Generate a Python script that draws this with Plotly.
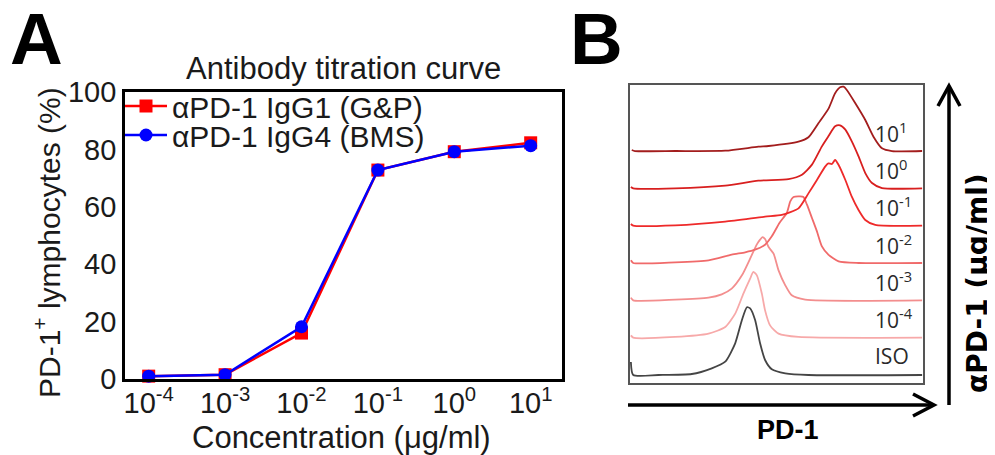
import plotly.graph_objects as go

# The page body adds an 8px margin, so the figure is sized and laid out to fit inside it.
PAGE_OFF = 8
W, H = 995 - PAGE_OFF, 455 - PAGE_OFF

# ---------------- Panel A data ----------------
conc = [1e-4, 1e-3, 1e-2, 1e-1, 1e0, 1e1]
conc_labels = ["10<sup>-4</sup>", "10<sup>-3</sup>", "10<sup>-2</sup>",
               "10<sup>-1</sup>", "10<sup>0</sup>", "10<sup>1</sup>"]
igg1_gp = [1.0, 1.5, 16.0, 72.8, 79.2, 82.3]
igg4_bms = [1.0, 1.5, 18.2, 72.8, 79.2, 81.3]
series_names = ["αPD-1 IgG1 (G&P)", "αPD-1 IgG4 (BMS)"]

# ---------------- Panel B data (histogram overlays) ----------------
hist_labels = ["ISO", "10<sup>-4</sup>", "10<sup>-3</sup>", "10<sup>-2</sup>",
               "10<sup>-1</sup>", "10<sup>0</sup>", "10<sup>1</sup>"]
iso_ch = [3, 11, 97, 211, 279, 325, 359, 382, 399, 410, 427, 444, 461, 484, 530, 609, 997]
iso_h = [13, 0, 0, 1, 6.7, 13.3, 31.7, 55, 67.7, 66.7, 55, 31.7, 15, 5.7, 1.7, 0, 0]
m4_ch = [3, 11, 154, 268, 325, 359, 387, 410, 421, 433, 450, 461, 478, 507, 575, 997]
m4_h = [2.3, 0, 0.7, 4, 10.7, 24, 44, 59, 65.7, 62.3, 44, 27.3, 12.3, 4, 0.7, 0]
m3_ch = [3, 11, 154, 268, 313, 347, 382, 410, 433, 444, 452, 461, 473, 490, 507, 530, 552, 598, 997]
m3_h = [2.7, 0, 0.7, 2.7, 6, 11.7, 25, 41.7, 56, 60.7, 63.3, 61.3, 53.3, 46.7, 30, 15, 5, 0.7, 0]
m2_ch = [3, 11, 154, 268, 347, 393, 427, 461, 484, 510, 535, 547, 558, 581, 592, 604, 621, 638, 655, 677, 712, 780, 997]
m2_h = [2.7, 0, 0.7, 2.7, 8.3, 10.7, 13.3, 18.3, 26.7, 40, 50, 61.6, 66, 66.6, 66, 58.3, 45, 31.6, 16.6, 8.3, 1.6, 0, 0]
m1_ch = [3, 11, 154, 325, 461, 518, 575, 609, 638, 666, 677, 689, 700, 712, 735, 757, 780, 803, 837, 997]
m1_h = [1.7, 0, 0.3, 4, 9, 10.7, 17.3, 32.3, 45.7, 59, 62.3, 61.7, 65.7, 60.7, 45.7, 29, 15.7, 5.7, 0.7, 0]
p0_ch = [3, 11, 154, 325, 438, 541, 587, 621, 655, 677, 700, 717, 735, 757, 780, 803, 826, 860, 997]
p0_h = [1.3, 0, 0, 2.7, 7.7, 9.3, 13.7, 23.7, 42, 52, 62, 63, 58.7, 47, 32, 15.3, 5.3, 0.3, 0]
p1_ch = [6, 17, 154, 325, 438, 473, 575, 609, 643, 678, 700, 717, 729, 740, 769, 803, 831, 860, 894, 997]
p1_h = [1, 0, 0, 0.3, 4.3, 5, 9.3, 13.7, 27.7, 42.7, 57.7, 63.7, 64.3, 61, 47.7, 31, 14.3, 2.7, 0, 0]

hist_ch = [iso_ch, m4_ch, m3_ch, m2_ch, m1_ch, p0_ch, p1_ch]
hist_h = [iso_h, m4_h, m3_h, m2_h, m1_h, p0_h, p1_h]
hist_colors = ["#454545", "#f7a9a9", "#f38e8e", "#f06a6a", "#ee2a2a", "#d81f1f", "#a31d1d"]
offset_step = 37.33


def px(x):
    return (x - PAGE_OFF) / W


def py(y):
    return 1 - (y - PAGE_OFF) / H


fig = go.Figure()

# Panel A traces
fig.add_trace(go.Scatter(
    x=conc, y=igg1_gp, name=series_names[0], mode="lines+markers",
    line=dict(color="#ff0000", width=2.5),
    marker=dict(symbol="square", size=13, color="#ff0000"),
    cliponaxis=False, xaxis="x", yaxis="y", legend="legend"))
fig.add_trace(go.Scatter(
    x=conc, y=igg4_bms, name=series_names[1], mode="lines+markers",
    line=dict(color="#0000ff", width=2.5),
    marker=dict(symbol="circle", size=13, color="#0000ff"),
    cliponaxis=False, xaxis="x", yaxis="y", legend="legend2"))

# Panel B traces
annotations = []
for i, (ch, hh, col, lab) in enumerate(zip(hist_ch, hist_h, hist_colors, hist_labels)):
    base = i * offset_step
    fig.add_trace(go.Scatter(
        x=ch, y=[base + v for v in hh], mode="lines",
        line=dict(color=col, width=1.8, shape="spline", smoothing=0.6),
        showlegend=False, xaxis="x2", yaxis="y2", hoverinfo="skip"))
    annotations.append(dict(
        x=830, y=base + 19, xref="x2", yref="y2", text=lab, showarrow=False,
        xanchor="left", yanchor="middle",
        font=dict(family="Open Sans", size=21, color="#2a2a2a")))

# Panel letters, title, axis titles, arrow labels
annotations += [
    dict(x=px(8), y=py(38), xref="paper", yref="paper", text="<b>A</b>", showarrow=False,
         xanchor="left", yanchor="middle", font=dict(family="Liberation Sans, Arial", size=73, color="black")),
    dict(x=px(568), y=py(38), xref="paper", yref="paper", text="<b>B</b>", showarrow=False,
         xanchor="left", yanchor="middle", font=dict(family="Liberation Sans, Arial", size=73, color="black")),
    dict(x=px(343), y=py(68), xref="paper", yref="paper", text="Antibody titration curve", showarrow=False,
         xanchor="center", yanchor="middle", font=dict(family="Liberation Sans, Arial", size=31, color="#1a1a1a")),
    dict(x=px(341), y=py(437), xref="paper", yref="paper", text="Concentration (μg/ml)", showarrow=False,
         xanchor="center", yanchor="middle", font=dict(family="Liberation Sans, Arial", size=31, color="#1a1a1a")),
    dict(x=px(47), y=py(243), xref="paper", yref="paper", text="PD-1<sup>+</sup> lymphocytes (%)",
         showarrow=False, textangle=-90, xanchor="center", yanchor="middle",
         font=dict(family="Liberation Sans, Arial", size=30, color="#1a1a1a")),
    dict(x=px(788), y=py(430), xref="paper", yref="paper", text="<b>PD-1</b>", showarrow=False,
         xanchor="center", yanchor="middle", font=dict(family="Liberation Sans, Arial", size=27, color="black")),
    dict(x=px(977), y=py(283), xref="paper", yref="paper", text="<b>αPD-1 (μg/ml)</b>", showarrow=False,
         textangle=-90, xanchor="center", yanchor="middle",
         font=dict(family="DejaVu Sans", size=28, color="black")),
]

shapes = [
    dict(type="line", xref="paper", yref="paper", x0=px(628), y0=py(405), x1=px(933), y1=py(405),
         line=dict(color="black", width=3.5)),
    dict(type="path", xref="paper", yref="paper",
         path=f"M {px(913)},{py(394)} L {px(934)},{py(405)} L {px(913)},{py(416)}",
         line=dict(color="black", width=3.5)),
    dict(type="line", xref="paper", yref="paper", x0=px(949), y0=py(405), x1=px(949), y1=py(87),
         line=dict(color="black", width=3.5)),
    dict(type="path", xref="paper", yref="paper",
         path=f"M {px(938)},{py(106)} L {px(949)},{py(86)} L {px(960)},{py(106)}",
         line=dict(color="black", width=3.5)),
]

tick_font = dict(family="Liberation Sans, Arial", size=29, color="#1a1a1a")
leg_font = dict(family="Liberation Sans, Arial", size=30, color="#1a1a1a")

fig.update_layout(
    width=W, height=H, margin=dict(l=0, r=0, t=0, b=0, pad=0, autoexpand=False),
    paper_bgcolor="white", plot_bgcolor="white",
    showlegend=True,
    legend=dict(x=px(120), y=py(106), xanchor="left", yanchor="middle",
                bgcolor="rgba(0,0,0,0)", font=leg_font, itemwidth=42, borderwidth=0),
    legend2=dict(x=px(120), y=py(135), xanchor="left", yanchor="middle",
                 bgcolor="rgba(0,0,0,0)", font=leg_font, itemwidth=42, borderwidth=0),
    xaxis=dict(domain=[px(125), px(562)], type="log", range=[-4.31, 1.41],
               tickvals=conc, ticktext=conc_labels, tickfont=tick_font,
               showgrid=False, zeroline=False, showline=True, mirror=True,
               linecolor="black", linewidth=2.8, ticks="", automargin=False,
               ticklabelstandoff=-4, anchor="y"),
    yaxis=dict(domain=[py(379), py(92)], range=[0, 100], tickvals=[0, 20, 40, 60, 80, 100],
               tickfont=tick_font, showgrid=False, zeroline=False, showline=True, mirror=True,
               linecolor="black", linewidth=2.8, ticks="", automargin=False,
               anchor="x"),
    xaxis2=dict(domain=[px(630), px(923)], range=[0, 1000], showticklabels=False,
                showgrid=False, zeroline=False, showline=True, mirror=True,
                linecolor="#555555", linewidth=1.6, ticks="", anchor="y2", automargin=False),
    yaxis2=dict(domain=[py(383), py(85)], range=[-8, 290], showticklabels=False,
                showgrid=False, zeroline=False, showline=True, mirror=True,
                linecolor="#555555", linewidth=1.6, ticks="", anchor="x2", automargin=False),
    annotations=annotations,
    shapes=shapes,
)

fig.write_html("out.html")
